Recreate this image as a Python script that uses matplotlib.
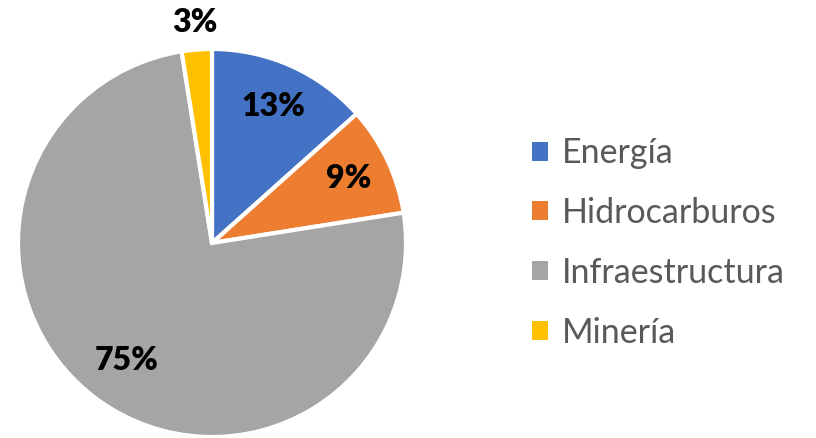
import matplotlib
matplotlib.use('Agg')
import matplotlib.pyplot as plt
from matplotlib.patches import Patch
import numpy as np

categorias = ['Energía', 'Hidrocarburos', 'Infraestructura', 'Minería']
valores = [13.4, 9.1, 75.0, 2.5]
etiquetas = ['13%', '9%', '75%', '3%']
colores = ['#4472C4', '#ED7D31', '#A5A5A5', '#FFC000']

plt.rcParams['font.family'] = ['Lato', 'DejaVu Sans']

fig = plt.figure(figsize=(8.16, 4.38), dpi=100)
# centro del pie ~ (212, 243) px, radio ~194 px
ax = fig.add_axes([18 / 816, 1 / 438, 388 / 816, 388 / 438])
wedges, _ = ax.pie(valores, colors=colores, startangle=90, counterclock=False,
                   radius=1, wedgeprops=dict(edgecolor='white', linewidth=3))
ax.set_xlim(-1, 1)
ax.set_ylim(-1, 1)
ax.set_aspect('equal')
ax.axis('off')

# etiquetas de porcentaje
dist = [0.77, 0.78, 0.75, 1.14]
for w, lab, d in zip(wedges, etiquetas, dist):
    ang = np.deg2rad((w.theta1 + w.theta2) / 2)
    ax.text(d * np.cos(ang), d * np.sin(ang), lab, ha='center', va='center',
            fontsize=23, fontweight='heavy', color='black', clip_on=False)

handles = [Patch(facecolor=c, edgecolor='none') for c in colores]
leg = fig.legend(handles, categorias, loc='center left', bbox_to_anchor=(501 / 816, 1 - 243 / 438),
                 frameon=False, fontsize=24.5, handlelength=0.48, handleheight=0.48,
                 handletextpad=0.4, labelspacing=0.82)
for t in leg.get_texts():
    t.set_color('#595959')

fig.savefig('out.png', dpi=100)
